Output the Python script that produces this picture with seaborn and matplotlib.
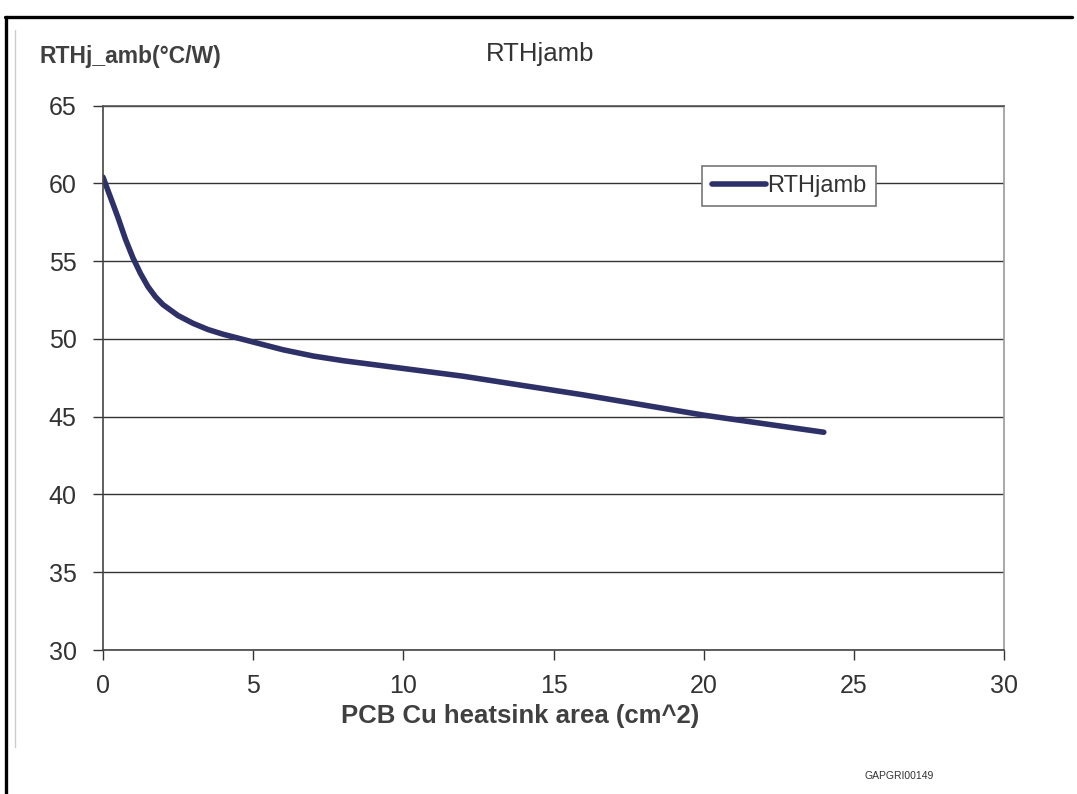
import matplotlib
matplotlib.use("Agg")
import matplotlib.pyplot as plt
import seaborn as sns
import pandas as pd
from matplotlib.lines import Line2D

# Data
area_cm2 = [0, 0.25, 0.5, 0.75, 1.0, 1.25, 1.5, 1.75, 2.0, 2.5, 3.0, 3.5, 4.0, 4.5,
            5, 6, 7, 8, 9, 10, 12, 14, 16, 18, 20, 22, 24]
rth_jamb = [60.4, 59.1, 57.8, 56.4, 55.2, 54.2, 53.35, 52.7, 52.2, 51.5, 51.0, 50.6, 50.3, 50.05,
            49.8, 49.3, 48.9, 48.6, 48.35, 48.1, 47.6, 47.0, 46.4, 45.75, 45.1, 44.55, 44.0]
series_name = "RTHjamb"
x_ticks = [0, 5, 10, 15, 20, 25, 30]
y_ticks = [30, 35, 40, 45, 50, 55, 60, 65]

sns.set_theme(style="white")
plt.rcParams["font.family"] = ["Liberation Sans", "DejaVu Sans"]

df = pd.DataFrame({"area": area_cm2, "rth": rth_jamb, "series": series_name})

fig = plt.figure(figsize=(10.77, 7.94), dpi=100)
ax = fig.add_axes([103/1077, 1-650/794, (1004-103)/1077, (650-105.6)/794])

line_color = "#2E3068"
sns.lineplot(data=df, x="area", y="rth", hue="series", palette=[line_color],
             linewidth=4.0, ax=ax, solid_capstyle="round", solid_joinstyle="round",
             legend=True)

ax.set_xlim(0, 30)
ax.set_ylim(30, 65)
ax.set_xticks(x_ticks)
ax.set_yticks(y_ticks)
ax.tick_params(axis="both", bottom=True, left=True, labelsize=18, colors="#333333",
               length=7, width=1, direction="out", labelcolor="#333333")
ax.tick_params(axis="x", pad=10)
ax.tick_params(axis="y", pad=12)
ax.yaxis.grid(True, color="#333333", linewidth=1)
ax.xaxis.grid(False)
for s in ["left", "bottom"]:
    ax.spines[s].set_color("#444444")
    ax.spines[s].set_linewidth(1.2)
ax.spines["top"].set_color("#555555")
ax.spines["top"].set_linewidth(1.2)
ax.spines["right"].set_color("#999999")
ax.spines["right"].set_linewidth(1.2)
ax.set_xlabel("")
ax.set_ylabel("")

leg = ax.legend(loc="center", bbox_to_anchor=((789-103)/(1004-103), (650-186)/(650-105.6)),
                frameon=True, fancybox=False, fontsize=17, handlelength=2.3,
                handletextpad=0.05, borderpad=0.4, borderaxespad=0)
leg.get_frame().set_edgecolor("#777777")
leg.get_frame().set_linewidth(1.2)
leg.get_frame().set_facecolor("white")
leg.get_frame().set_alpha(1)
for t in leg.get_texts():
    t.set_color("#333333")

fig.text(130/1077, 1-57/794, "RTHj_amb(°C/W)", fontsize=16.5, fontweight="bold",
         color="#404040", ha="center", va="center")
fig.text(540/1077, 1-54/794, "RTHjamb", fontsize=18.5, color="#333333",
         ha="center", va="center")
fig.text(520/1077, 1-716/794, "PCB Cu heatsink area (cm^2)", fontsize=18.5,
         fontweight="bold", color="#404040", ha="center", va="center")
fig.text(899/1077, 1-776/794, "GAPGRI00149", fontsize=7.5, color="#333333",
         ha="center", va="center")

# Outer frame lines
fig.add_artist(Line2D([5/1077, 1072/1077], [1-17/794, 1-17/794], color="black",
                      linewidth=2.4, transform=fig.transFigure))
fig.add_artist(Line2D([6/1077, 6/1077], [1-17/794, 0], color="black",
                      linewidth=2.4, transform=fig.transFigure))
fig.add_artist(Line2D([15/1077, 15/1077], [1-30/794, 1-747/794], color="#cccccc",
                      linewidth=1.0, transform=fig.transFigure))

fig.savefig("out.png", dpi=100)
